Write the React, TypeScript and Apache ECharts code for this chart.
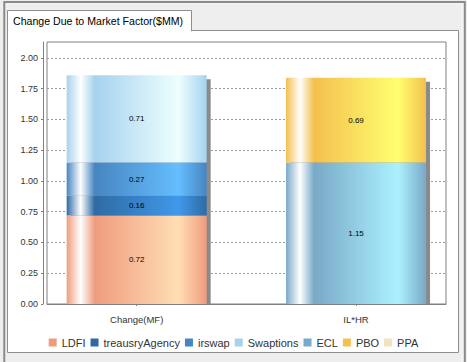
import React, { useEffect, useRef } from "react";
import * as echarts from "echarts";

const titleText = "Change Due to Market Factor($MM)";
const categories = ["Change(MF)", "IL*HR"];
const seriesNames = ["LDFI", "treausryAgency", "irswap", "Swaptions", "ECL", "PBO", "PPA"];
const LDFI = [0.72, null];
const treausryAgency = [0.16, null];
const irswap = [0.27, null];
const Swaptions = [0.71, null];
const ECL = [null, 1.15];
const PBO = [null, 0.69];
const PPA = [null, null];
const seriesValues = [LDFI, treausryAgency, irswap, Swaptions, ECL, PBO, PPA];
const yMin = 0;
const yMax = 2.13;
const yInterval = 0.25;
const yTickValues = [0, 0.25, 0.5, 0.75, 1.0, 1.25, 1.5, 1.75, 2.0];
const baseColors = ["#EF9C7E", "#2E6BA4", "#4785C0", "#A6D2EE", "#79A9C8", "#F4C04E", "#F2E2BF"];

const FONT = "'Liberation Sans', Arial, sans-serif";
const BAR_W = 140;

function brighter(hex: string): string {
  const n = parseInt(hex.slice(1), 16);
  const ch = [(n >> 16) & 255, (n >> 8) & 255, n & 255].map((c) => {
    let v = c;
    if (v > 0 && v < 3) v = 3;
    return Math.min(255, Math.floor(v / 0.7));
  });
  return "#" + ch.map((c) => c.toString(16).padStart(2, "0")).join("");
}

function barGradient(base: string) {
  return {
    type: "linear",
    x: 0,
    y: 0,
    x2: 1,
    y2: 0,
    colorStops: [
      { offset: 0, color: base },
      { offset: 0.1, color: "#ffffff" },
      { offset: 0.2, color: base },
      { offset: 0.8, color: brighter(base) },
      { offset: 1, color: base },
    ],
  };
}

export default function App() {
  const ref = useRef<HTMLDivElement>(null);
  useEffect(() => {
    if (!ref.current) return;
    const chart = echarts.init(ref.current, undefined, { renderer: "svg" });
    const totals = categories.map((_, i) =>
      seriesValues.reduce((s, arr) => s + ((arr[i] as number | null) ?? 0), 0)
    );

    const barSeries = seriesNames.map((name, k) => ({
      name,
      type: "bar",
      stack: "total",
      xAxisIndex: 1,
      yAxisIndex: 1,
      barWidth: BAR_W,
      z: 3,
      data: seriesValues[k],
      itemStyle: { color: barGradient(baseColors[k]) },
      label: {
        show: true,
        position: "inside",
        fontSize: 8,
        fontFamily: FONT,
        color: "#000",
        formatter: (p: any) => (p.value == null ? "" : Number(p.value).toFixed(2)),
      },
      emphasis: { disabled: true },
    }));

    const shadowSeries = {
      name: "shadow",
      type: "custom",
      xAxisIndex: 1,
      yAxisIndex: 1,
      z: 2,
      silent: true,
      data: totals.map((t, i) => [i, t]),
      encode: { x: 0, y: 1 },
      renderItem: (params: any, api: any) => {
        const idx = api.value(0);
        const total = api.value(1);
        const top = api.coord([idx, total]);
        const base = api.coord([idx, 0]);
        return {
          type: "rect",
          shape: {
            x: top[0] - BAR_W / 2 + 4,
            y: top[1] + 4,
            width: BAR_W,
            height: Math.max(0, base[1] - top[1] - 4),
          },
          style: { fill: "#8a8a8a" },
        };
      },
    };

    chart.setOption({
      animation: false,
      backgroundColor: "#EEEEEE",
      graphic: [
        {
          type: "rect",
          z: -100,
          shape: { x: 4.3, y: 2, width: 460.5, height: 400 },
          style: { fill: "#F4F4F4", stroke: "#8a8a8a", lineWidth: 2 },
        },
        {
          type: "rect",
          z: -99,
          shape: { x: 6, y: 4, width: 455, height: 400 },
          style: { fill: "#EEEEEE" },
        },
        {
          type: "rect",
          z: -98,
          shape: { x: 7.5, y: 30.5, width: 451, height: 322 },
          style: { fill: "#ffffff", stroke: "#8e8e8e", lineWidth: 1 },
        },
        {
          type: "rect",
          z: -97,
          shape: { x: 7.5, y: 10.5, width: 184, height: 20.5 },
          style: { fill: "#ffffff", stroke: "#8e8e8e", lineWidth: 1 },
        },
        {
          type: "rect",
          z: -96,
          shape: { x: 8, y: 29, width: 183, height: 3 },
          style: { fill: "#ffffff" },
        },
        {
          type: "text",
          z: -95,
          style: {
            text: titleText,
            x: 13,
            y: 20.5,
            fontSize: 10.6,
            fontFamily: FONT,
            fill: "#000",
            verticalAlign: "middle",
          },
        },
      ],
      grid: [
        {
          left: 47,
          top: 42,
          right: 21,
          bottom: 58,
          show: true,
          backgroundColor: "#ffffff",
          borderColor: "#808080",
          borderWidth: 1,
          containLabel: false,
        },
        {
          left: 27,
          top: 42,
          right: 1.3,
          bottom: 58,
          containLabel: false,
        },
      ],
      legend: {
        show: true,
        left: "center",
        top: 337,
        padding: 0,
        itemWidth: 8,
        itemHeight: 8,
        itemGap: 5,
        icon: "rect",
        textStyle: { fontSize: 11, fontFamily: FONT, color: "#333" },
        data: seriesNames.map((n, k) => ({ name: n, itemStyle: { color: baseColors[k] } })),
      },
      xAxis: [
        {
          type: "category",
          gridIndex: 0,
          data: categories,
          offset: 4,
          axisLine: { show: true, lineStyle: { color: "#808080", width: 1 } },
          axisTick: { show: false },
          axisLabel: { show: false },
          splitLine: { show: false },
        },
        {
          type: "category",
          gridIndex: 1,
          data: categories,
          offset: 4,
          axisLine: { show: false },
          axisTick: {
            show: true,
            alignWithLabel: true,
            length: 2,
            lineStyle: { color: "#808080" },
          },
          axisLabel: { margin: 6, fontSize: 9.5, fontFamily: FONT, color: "#333" },
          splitLine: { show: false },
        },
      ],
      yAxis: [
        {
          type: "value",
          gridIndex: 0,
          min: yMin,
          max: yMax,
          interval: yInterval,
          offset: 4,
          axisLine: { show: true, lineStyle: { color: "#808080", width: 1 } },
          axisTick: {
            show: true,
            length: 2,
            lineStyle: { color: "#808080" },
            customValues: yTickValues,
          },
          axisLabel: {
            margin: 5,
            fontSize: 9,
            fontFamily: FONT,
            color: "#333",
            customValues: yTickValues,
            formatter: (v: number) => v.toFixed(2),
          },
          splitLine: {
            show: true,
            lineStyle: { color: "#9a9a9a", width: 1, type: [2, 2] },
          },
        },
        {
          type: "value",
          gridIndex: 1,
          min: yMin,
          max: yMax,
          interval: yInterval,
          show: false,
          splitLine: { show: false },
        },
      ],
      series: [shadowSeries, ...barSeries],
    });
    return () => chart.dispose();
  }, []);
  return (
    <div
      ref={ref}
      style={{ position: "absolute", left: 0, top: 0, width: 467, height: 362 }}
    />
  );
}
